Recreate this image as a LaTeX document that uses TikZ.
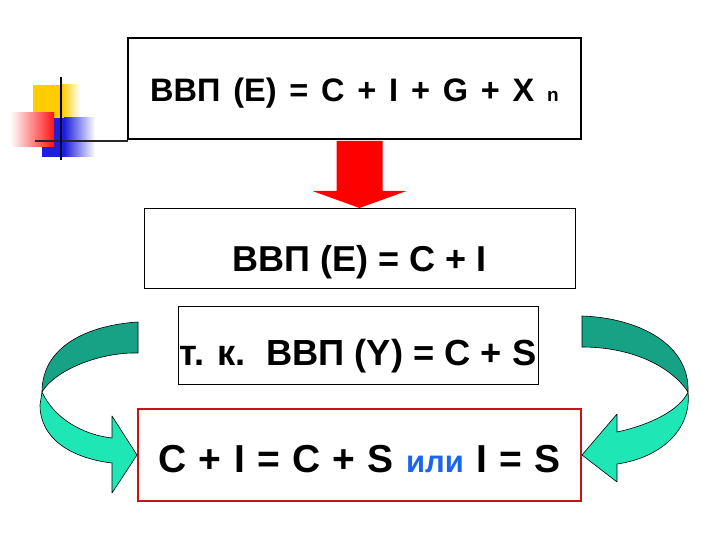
\documentclass[tikz,border=0pt]{standalone}
\usepackage{fontspec}
\setmainfont{Liberation Sans}
\usetikzlibrary{positioning,calc}

\definecolor{bandback}{RGB}{22,163,133}
\definecolor{bandfront}{RGB}{30,230,180}
\definecolor{orword}{RGB}{25,100,240}
\definecolor{logoyellow}{RGB}{255,204,0}
\definecolor{logored}{RGB}{255,20,20}
\definecolor{logoblue}{RGB}{30,30,220}
\definecolor{framered}{RGB}{200,20,20}

\begin{document}
\begin{tikzpicture}[
        x=1pt, y=-1pt,
        box/.style={draw, inner sep=0pt, align=center, text=black},
        band/.style={draw=black, line width=0.6pt, line join=round}
    ]
    \useasboundingbox (0,0) rectangle (720,540);

    % slide logo
    \fill[logoyellow] (33,85) rectangle (62,118);
    \shade[left color=logoyellow, right color=white] (62,85) rectangle (80,118);
    \fill[logoblue] (42,118) rectangle (64,157);
    \shade[left color=logoblue, right color=white] (64,118) rectangle (95,157);
    \shade[left color=white, right color=logored] (10,113) rectangle (54,147);
    \draw[line width=2pt, black!85] (35,141) -- (128,141);
    \draw[line width=2pt, blue!20!black] (61,77) -- (61,160);

    % boxes
    \node[box, line width=2pt, minimum width=453pt, minimum height=101pt,
          text height=34pt, text depth=7pt,
          font={\bfseries\fontsize{32.5}{34}\selectfont\spaceskip 12.8pt\relax}] (gdp) at (354.5,88.5)
          {ВВП (Е) = C + I + G + X {\fontsize{19}{19}\selectfont n}};
    \node[box, line width=1pt, minimum width=431pt, minimum height=80pt,
          text height=53pt, text depth=8pt,
          font={\bfseries\fontsize{36}{38}\selectfont},
          below=68pt of gdp, xshift=5pt] (gdpe)
          {ВВП (Е) = C + I};
    \node[box, line width=1pt, minimum width=360pt, minimum height=78pt,
          text height=48pt, text depth=8pt,
          font={\bfseries\fontsize{36.3}{38}\selectfont},
          below=17pt of gdpe, xshift=-1.5pt] (gdpy)
          {т. к.\ \ ВВП (Y) = C + S};
    \node[box, draw=framered, line width=2pt, minimum width=443pt, minimum height=92pt,
          text height=42pt, text depth=8pt,
          font={\bfseries\fontsize{39}{41}\selectfont\spaceskip 12.3pt\relax},
          below=23pt of gdpy, xshift=1.5pt] (eq)
          {C + I = C + S {\color{orword}\fontsize{31}{31}\selectfont или} I = S};

    % red arrow
    \coordinate (atop) at ($(gdpe.north |- gdp.south)+(0,1)$);
    \fill[red] ([xshift=-23pt]atop) -- ([xshift=23pt]atop)
        -- ([xshift=23pt,yshift=17pt]gdpe.north) -- ([xshift=47pt,yshift=17pt]gdpe.north)
        -- (gdpe.north)
        -- ([xshift=-47pt,yshift=17pt]gdpe.north) -- ([xshift=-23pt,yshift=17pt]gdpe.north)
        -- cycle;

    % left curved arrow
    \filldraw[band, fill=bandback] (138,322) .. controls (90,325) and (42,345) .. (42,392)
        .. controls (55,370) and (100,352) .. (138,353) -- cycle;
    \filldraw[band, fill=bandfront] (42,392) .. controls (55,420) and (85,435) .. (112,438)
        -- (112,416) -- (eq.west) -- (112,493) -- (112,463)
        .. controls (70,458) and (40,438) .. (40,405) -- cycle;

    % right curved arrow
    \filldraw[band, fill=bandback] (582,316) .. controls (640,318) and (690,345) .. (688,392)
        .. controls (670,365) and (630,347) .. (582,347) -- cycle;
    \filldraw[band, fill=bandfront] (688,392) .. controls (692,430) and (660,458) .. (617,464)
        -- (617,482) -- (eq.east) -- (617,414) -- (617,432)
        .. controls (650,425) and (680,410) .. (688,392) -- cycle;
\end{tikzpicture}
\end{document}
